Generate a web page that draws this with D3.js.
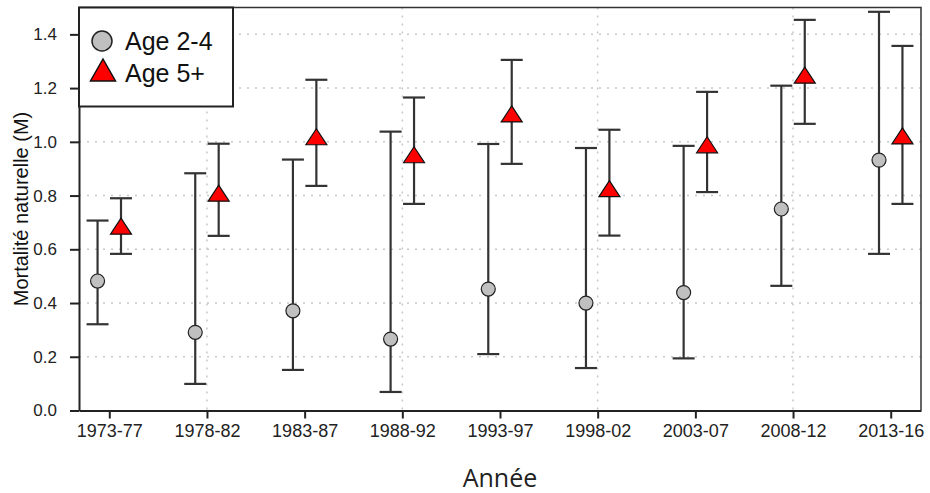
<!DOCTYPE html>
<html><head><meta charset="utf-8">
<script src="https://cdn.jsdelivr.net/npm/d3@7/dist/d3.min.js"></script>
<style>body{margin:0;background:#fff}</style>
</head><body><svg id="c" width="930" height="493"></svg>
<script>
// ---- data ----
const categories = ["1973-77","1978-82","1983-87","1988-92","1993-97","1998-02","2003-07","2008-12","2013-16"];
const centers = [1975,1980,1985,1990,1995,2000,2005,2010,2015];
const age24Mean = [0.482,0.291,0.371,0.266,0.452,0.400,0.439,0.750,0.932];
const age24Low  = [0.321,0.099,0.151,0.069,0.210,0.158,0.194,0.464,0.583];
const age24High = [0.707,0.883,0.934,1.038,0.992,0.977,0.985,1.209,1.484];
const age5Mean  = [0.686,0.809,1.019,0.952,1.104,0.826,0.989,1.248,1.022];
const age5Low   = [0.583,0.650,0.836,0.769,0.918,0.651,0.813,1.067,0.769];
const age5High  = [0.790,0.993,1.231,1.165,1.305,1.045,1.186,1.454,1.357];
const yTicks = [0,0.2,0.4,0.6,0.8,1.0,1.2,1.4];
const gridYears = [1980,1990,2000,2010];
const seriesNames = ["Age 2-4","Age 5+"];
const yTitle = "Mortalité naturelle (M)";
const xTitle = "Année";

// ---- layout ----
const L=79, R=921, T=7.5, B=410.5;
const svg = d3.select("#c");
const x = d3.scaleLinear().domain([1973.45,2016.55]).range([L,R]);
const y = d3.scaleLinear().domain([0,1.5]).range([B,T]);
const off = 0.6, cap = 11;
const fontA = "'Liberation Sans', Arial, sans-serif";

// grid
const g = svg.append("g");
g.selectAll("line.h").data(yTicks.filter(d=>d>0)).join("line")
  .attr("x1",L).attr("x2",R).attr("y1",d=>y(d)).attr("y2",d=>y(d))
  .attr("stroke","#c8c8c8").attr("stroke-width",1.5).attr("stroke-dasharray","2,6");
g.selectAll("line.v").data(gridYears).join("line")
  .attr("x1",d=>x(d)).attr("x2",d=>x(d)).attr("y1",T).attr("y2",B)
  .attr("stroke","#c8c8c8").attr("stroke-width",1.5).attr("stroke-dasharray","2,6");

// frame top/right
svg.append("path").attr("d",`M${L},${T}H${R}V${B}`).attr("fill","none")
  .attr("stroke","#333").attr("stroke-width",1.5);

// axes
const ya = svg.append("g").attr("transform",`translate(${L},0)`)
  .call(d3.axisLeft(y).tickValues(yTicks).tickFormat(d3.format(".1f")).tickSize(9).tickPadding(13).tickSizeOuter(0));
ya.select(".domain").attr("stroke","#222").attr("stroke-width",2);
ya.selectAll(".tick line").attr("stroke","#222").attr("stroke-width",2);
ya.selectAll(".tick text").attr("font-family",fontA).attr("font-size",17).attr("fill","#222");

const xa = svg.append("g").attr("transform",`translate(0,${B})`)
  .call(d3.axisBottom(x).tickValues(centers).tickFormat((d,i)=>categories[i]).tickSize(8).tickPadding(6).tickSizeOuter(0));
xa.select(".domain").attr("stroke","#222").attr("stroke-width",2);
xa.selectAll(".tick line").attr("stroke","#222").attr("stroke-width",2);
xa.selectAll(".tick text").attr("font-family",fontA).attr("font-size",18).attr("fill","#222");

// titles
svg.append("text").attr("transform",`translate(28,${(T+B)/2}) rotate(-90)`)
  .attr("text-anchor","middle").attr("font-family",fontA).attr("font-size",20).attr("fill","#111").text(yTitle);
svg.append("text").attr("x",(L+R)/2).attr("y",487).attr("text-anchor","middle")
  .attr("font-family","'Open Sans', sans-serif").attr("font-size",25).attr("fill","#222").text(xTitle);

// error bars
function errbars(xs, lo, hi){
  const eg = svg.append("g").attr("stroke","#333").attr("stroke-width",2.2);
  const idx = d3.range(xs.length);
  eg.selectAll("line.v").data(idx).join("line")
    .attr("x1",i=>x(xs[i])).attr("x2",i=>x(xs[i])).attr("y1",i=>y(lo[i])).attr("y2",i=>y(hi[i]));
  eg.selectAll("line.lo").data(idx).join("line")
    .attr("x1",i=>x(xs[i])-cap).attr("x2",i=>x(xs[i])+cap).attr("y1",i=>y(lo[i])).attr("y2",i=>y(lo[i]));
  eg.selectAll("line.hi").data(idx).join("line")
    .attr("x1",i=>x(xs[i])-cap).attr("x2",i=>x(xs[i])+cap).attr("y1",i=>y(hi[i])).attr("y2",i=>y(hi[i]));
}
const xsC = centers.map(c=>c-off), xsT = centers.map(c=>c+off);
errbars(xsC, age24Low, age24High);
errbars(xsT, age5Low, age5High);

const tri = (w,h)=>`M0,${-h/2}L${w/2},${h/2}L${-w/2},${h/2}Z`;
svg.append("g").selectAll("circle").data(d3.range(centers.length)).join("circle")
  .attr("cx",i=>x(xsC[i])).attr("cy",i=>y(age24Mean[i])).attr("r",7)
  .attr("fill","#c0c0c0").attr("stroke","#222").attr("stroke-width",1.2);
svg.append("g").selectAll("path").data(d3.range(centers.length)).join("path")
  .attr("transform",i=>`translate(${x(xsT[i])},${y(age5Mean[i])})`).attr("d",tri(21,16))
  .attr("fill","#ff0000").attr("stroke","#111").attr("stroke-width",1.2);

// legend
const lg = svg.append("g");
lg.append("rect").attr("x",L).attr("y",T).attr("width",154).attr("height",99)
  .attr("fill","#fff").attr("stroke","#222").attr("stroke-width",2);
lg.append("circle").attr("cx",102).attr("cy",41).attr("r",10)
  .attr("fill","#c0c0c0").attr("stroke","#222").attr("stroke-width",1.5);
lg.append("path").attr("transform","translate(103,70)").attr("d",tri(25,22))
  .attr("fill","#ff0000").attr("stroke","#111").attr("stroke-width",1.5);
lg.selectAll("text").data(seriesNames).join("text")
  .attr("x",125).attr("y",(d,i)=>50+i*32).attr("font-family",fontA).attr("font-size",25)
  .attr("fill","#111").text(d=>d);
</script></body></html>
